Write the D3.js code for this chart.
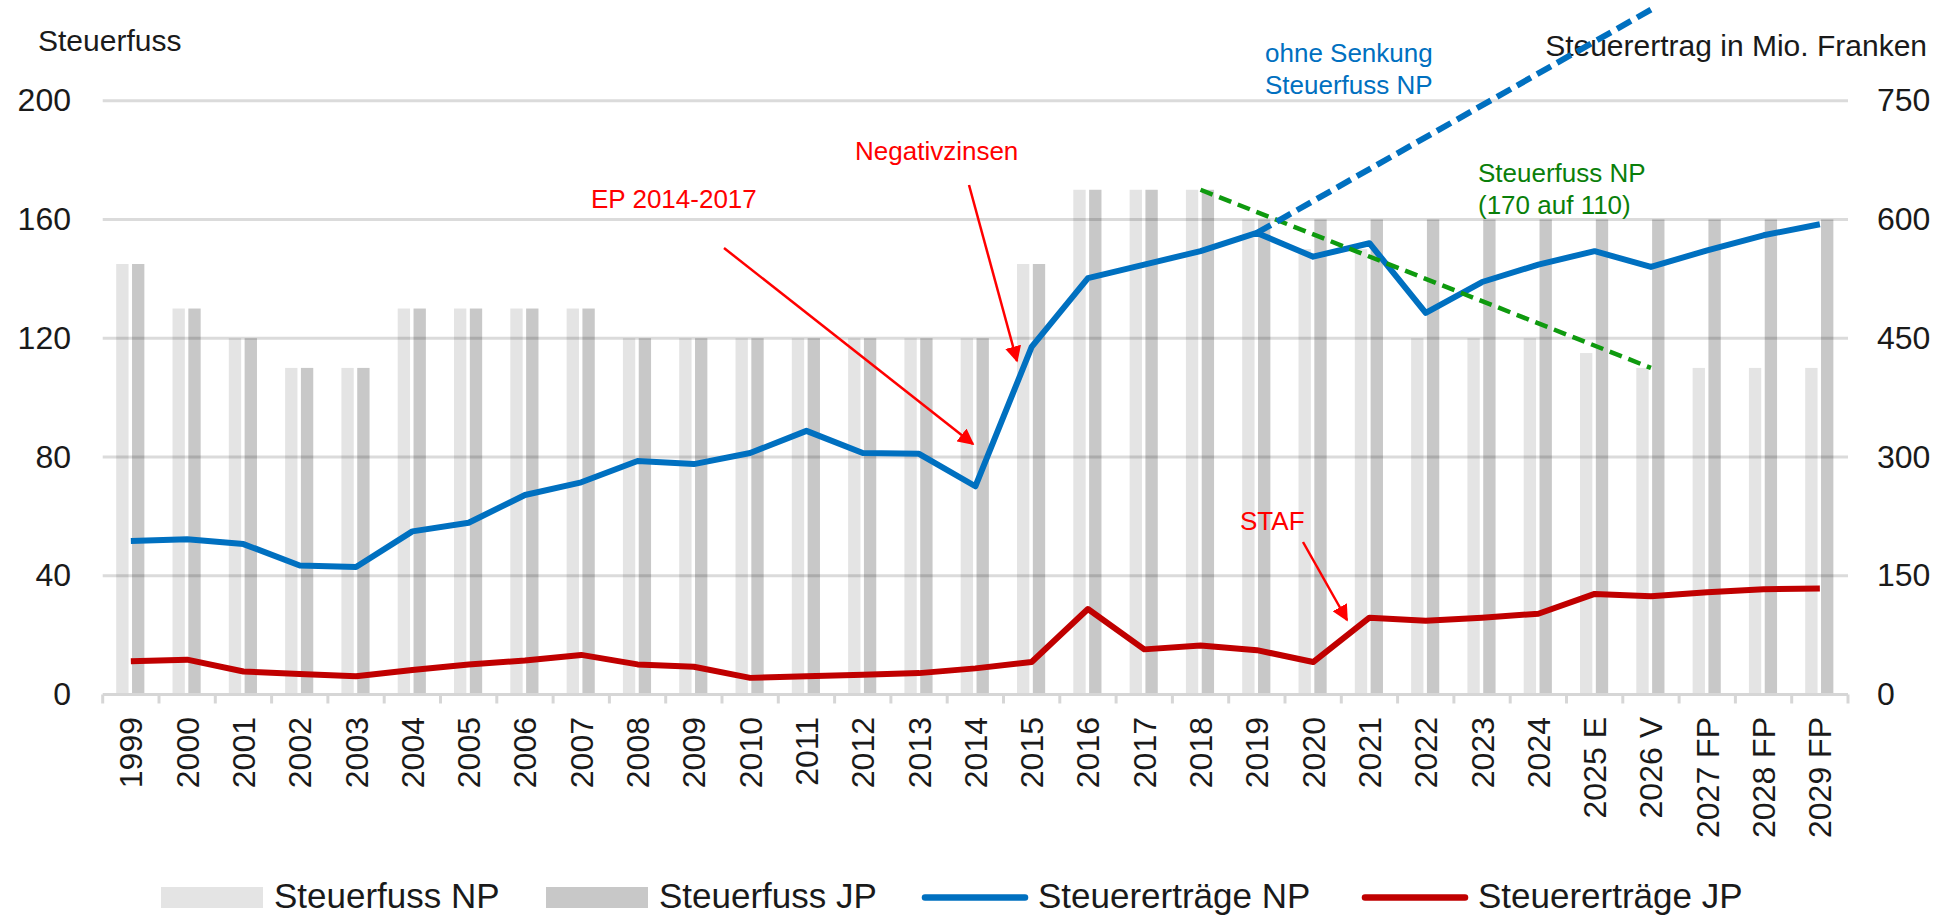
<!DOCTYPE html>
<html>
<head>
<meta charset="utf-8">
<script src="https://cdn.jsdelivr.net/npm/d3@7/dist/d3.min.js"></script>
<style>
  body { margin: 0; background: #fff; }
  svg text { font-family: "Liberation Sans", Arial, sans-serif; }
</style>
</head>
<body>
<svg width="1946" height="919"></svg>
<script>
// categories on the x axis
var categories = ["1999", "2000", "2001", "2002", "2003", "2004", "2005", "2006", "2007", "2008",
  "2009", "2010", "2011", "2012", "2013", "2014", "2015", "2016", "2017", "2018", "2019", "2020",
  "2021", "2022", "2023", "2024", "2025 E", "2026 V", "2027 FP", "2028 FP", "2029 FP"];

// Steuerfuss (left axis)
var rateNP = [145, 130, 120, 110, 110, 130, 130, 130, 130, 120, 120, 120, 120, 120, 120, 120,
  145, 170, 170, 170, 160, 150, 150, 120, 120, 120, 115, 110, 110, 110, 110];
var rateJP = [145, 130, 120, 110, 110, 130, 130, 130, 130, 120, 120, 120, 120, 120, 120, 120,
  145, 170, 170, 170, 160, 160, 160, 160, 160, 160, 160, 160, 160, 160, 160];

// Steuerertraege in Mio. Franken (right axis)
var revenueNP = [194, 196, 190, 163, 161, 206, 217, 252, 268, 295, 291, 305, 333, 305, 304, 263,
  439, 526, 543, 560, 583, 553, 570, 482, 521, 543, 560, 540, 561, 580, 594];
var revenueJP = [42, 44, 29, 26, 23, 31, 38, 43, 50, 38, 35, 21, 23, 25, 27, 33,
  41, 108, 57, 62, 56, 41, 97, 93, 97, 102, 127, 124, 129, 133, 134];

// trend annotations
var trendNoCut = [{cat: "2019", v: 583}, {cat: "2026 V", v: 865}];   // right axis
var trendRateNP = [{cat: "2018", v: 170}, {cat: "2026 V", v: 110}];  // left axis

var leftTicks = [0, 40, 80, 120, 160, 200];
var rightTicks = [0, 150, 300, 450, 600, 750];
var legendNames = ["Steuerfuss NP", "Steuerfuss JP", "Steuererträge NP", "Steuererträge JP"];

var svg = d3.select("svg");
var mLeft = 102.7, mRight = 1848, mTop = 100.7, mBottom = 694.5;

var x = d3.scaleBand().domain(categories).range([mLeft, mRight]).padding(0);
var bw = x.bandwidth();
var sub = d3.scaleBand().domain(["NP", "JP"]).range([bw * 0.24, bw * 0.74]).paddingInner(0.22);
var yL = d3.scaleLinear().domain([0, 200]).range([mBottom, mTop]);
var yR = d3.scaleLinear().domain([0, 750]).range([mBottom, mTop]);
var cx = (c) => x(c) + bw / 2;

var defs = svg.append("defs");
defs.append("marker").attr("id", "arrow").attr("viewBox", "0 0 10 10").attr("refX", 9).attr("refY", 5)
  .attr("markerWidth", 6.5).attr("markerHeight", 6.5).attr("orient", "auto")
  .attr("markerUnits", "strokeWidth")
  .append("path").attr("d", "M0,0 L10,5 L0,10 z").attr("fill", "#ff0000");

// bars
var barData = categories.map((c, i) => ({cat: c, NP: rateNP[i], JP: rateJP[i]}));
var groups = svg.append("g").selectAll("g").data(barData).enter().append("g")
  .attr("transform", (d) => "translate(" + x(d.cat) + ",0)");
groups.selectAll("rect").data((d) => [{k: "NP", v: d.NP}, {k: "JP", v: d.JP}]).enter().append("rect")
  .attr("x", (d) => sub(d.k))
  .attr("width", sub.bandwidth())
  .attr("y", (d) => yL(d.v))
  .attr("height", (d) => mBottom - yL(d.v))
  .attr("fill", (d) => d.k === "NP" ? "#e4e4e4" : "#c8c8c8");

// gridlines
svg.append("g").selectAll("line").data(leftTicks.slice(1)).enter().append("line")
  .attr("x1", mLeft).attr("x2", mRight)
  .attr("y1", (d) => yL(d)).attr("y2", (d) => yL(d))
  .attr("stroke", "#000").attr("stroke-opacity", 0.14).attr("stroke-width", 3);

// x axis line + ticks
svg.append("line").attr("x1", mLeft).attr("x2", mRight).attr("y1", mBottom).attr("y2", mBottom)
  .attr("stroke", "#d6d6d6").attr("stroke-width", 3);
svg.append("g").selectAll("line").data(d3.range(categories.length + 1)).enter().append("line")
  .attr("x1", (i) => mLeft + i * x.step()).attr("x2", (i) => mLeft + i * x.step())
  .attr("y1", mBottom).attr("y2", mBottom + 9)
  .attr("stroke", "#d6d6d6").attr("stroke-width", 3);

// x labels
svg.append("g").selectAll("text").data(categories).enter().append("text")
  .attr("transform", (d) => "translate(" + cx(d) + ",717) rotate(-90)")
  .attr("text-anchor", "end").attr("dy", "0.36em")
  .attr("font-size", 32).attr("fill", "#1a1a1a")
  .text((d) => d);

// y labels
svg.append("g").selectAll("text").data(leftTicks).enter().append("text")
  .attr("x", 71).attr("y", (d) => yL(d)).attr("dy", "0.33em")
  .attr("text-anchor", "end").attr("font-size", 32).attr("fill", "#1a1a1a")
  .text((d) => d);
svg.append("g").selectAll("text").data(rightTicks).enter().append("text")
  .attr("x", 1877).attr("y", (d) => yR(d)).attr("dy", "0.33em")
  .attr("font-size", 32).attr("fill", "#1a1a1a")
  .text((d) => d);

svg.append("text").attr("x", 38).attr("y", 51).attr("font-size", 30).attr("fill", "#1a1a1a").text("Steuerfuss");
svg.append("text").attr("x", 1927).attr("y", 56).attr("text-anchor", "end").attr("font-size", 30)
  .attr("fill", "#1a1a1a").text("Steuerertrag in Mio. Franken");

// revenue lines
var line = d3.line().x((d) => cx(d.cat)).y((d) => yR(d.v));
svg.append("path").datum(categories.map((c, i) => ({cat: c, v: revenueNP[i]})))
  .attr("d", line).attr("fill", "none").attr("stroke", "#0070c0").attr("stroke-width", 6)
  .attr("stroke-linejoin", "round");
svg.append("path").datum(categories.map((c, i) => ({cat: c, v: revenueJP[i]})))
  .attr("d", line).attr("fill", "none").attr("stroke", "#c00000").attr("stroke-width", 6)
  .attr("stroke-linejoin", "round");

// dashed trends
svg.append("path").datum(trendRateNP)
  .attr("d", d3.line().x((d) => cx(d.cat)).y((d) => yL(d.v)))
  .attr("fill", "none").attr("stroke", "#0f9a0f").attr("stroke-width", 4.5).attr("stroke-dasharray", "13,7");
svg.append("path").datum(trendNoCut)
  .attr("d", line)
  .attr("fill", "none").attr("stroke", "#0070c0").attr("stroke-width", 6).attr("stroke-dasharray", "16,7");

// annotations
var red = "#ff0000";
svg.append("text").attr("x", 591).attr("y", 208).attr("font-size", 26).attr("fill", red).text("EP 2014-2017");
svg.append("text").attr("x", 855).attr("y", 160).attr("font-size", 26).attr("fill", red).text("Negativzinsen");
svg.append("text").attr("x", 1240).attr("y", 530).attr("font-size", 26).attr("fill", red).text("STAF");
[[724, 248, 973, 444], [969, 185, 1017, 361], [1303, 542, 1347, 620]].forEach((a) => {
  svg.append("line").attr("x1", a[0]).attr("y1", a[1]).attr("x2", a[2]).attr("y2", a[3])
    .attr("stroke", red).attr("stroke-width", 2.5).attr("marker-end", "url(#arrow)");
});
svg.append("text").attr("x", 1265).attr("y", 62).attr("font-size", 26).attr("fill", "#0070c0").text("ohne Senkung");
svg.append("text").attr("x", 1265).attr("y", 94).attr("font-size", 26).attr("fill", "#0070c0").text("Steuerfuss NP");
svg.append("text").attr("x", 1478).attr("y", 182).attr("font-size", 26).attr("fill", "#0a7f0a").text("Steuerfuss NP");
svg.append("text").attr("x", 1478).attr("y", 214).attr("font-size", 26).attr("fill", "#0a7f0a").text("(170 auf 110)");

// legend
var legendX = [161, 546, 923, 1363];
var legend = svg.append("g").selectAll("g").data(legendNames).enter().append("g")
  .attr("transform", (d, i) => "translate(" + legendX[i] + ",0)");
legend.filter((d, i) => i < 2).append("rect")
  .attr("x", 0).attr("y", 887).attr("width", 102).attr("height", 21)
  .attr("fill", (d, i) => i === 0 ? "#e4e4e4" : "#c8c8c8");
legend.filter((d, i) => i >= 2).append("line")
  .attr("x1", 2).attr("x2", 102).attr("y1", 897.5).attr("y2", 897.5)
  .attr("stroke-width", 6.5).attr("stroke-linecap", "round")
  .attr("stroke", (d) => d === "Steuererträge NP" ? "#0070c0" : "#c00000");
legend.append("text").attr("x", (d, i) => i < 2 ? 113 : 115).attr("y", 908)
  .attr("font-size", 35).attr("fill", "#1a1a1a").text((d) => d);
</script>
</body>
</html>
